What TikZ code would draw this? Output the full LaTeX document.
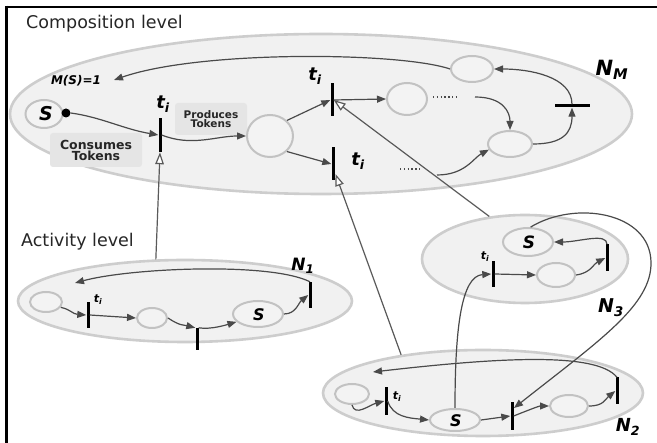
\documentclass[tikz,border=0pt]{standalone}
\usepackage{fontspec}
\setmainfont{DejaVu Sans}
\usetikzlibrary{shapes.geometric,arrows.meta}
\definecolor{regfill}{HTML}{F1F1F1}
\definecolor{regborder}{HTML}{CDCDCD}
\definecolor{plfill}{HTML}{F3F3F3}
\definecolor{plborder}{HTML}{C2C2C2}
\definecolor{arcol}{HTML}{4A4A4A}
\definecolor{hcol}{HTML}{5A5A5A}
\definecolor{boxfill}{HTML}{E5E5E5}
\begin{document}
\begin{tikzpicture}[x=1pt,y=-1pt,
  region/.style={ellipse, draw=regborder, fill=regfill, line width=2.6pt, inner sep=0pt},
  place/.style={ellipse, draw=plborder, fill=plfill, line width=2pt, inner sep=0pt},
  vbar/.style={rectangle, fill=black, minimum width=3pt, inner sep=0pt},
  hbar/.style={rectangle, fill=black, minimum height=3pt, inner sep=0pt},
  arc/.style={draw=arcol, line width=1.2pt, -{Triangle[length=9pt,width=7pt]}},
  hollow/.style={draw=hcol, line width=1.2pt, -{Triangle[open,length=12pt,width=8.5pt,fill=white]}},
  lbl/.style={inner sep=0pt, font=\bfseries\itshape\fontsize{#1}{#1}\selectfont},
  lbl/.default=16,
  title/.style={inner sep=0pt, anchor=base west, text=black!85, font=\fontsize{17.5}{17.5}\selectfont},
  tokbox/.style={rectangle, rounded corners=3pt, fill=boxfill, inner sep=0pt, align=center, text=black!85, font=\bfseries\fontsize{#1}{#1}\selectfont},
  dotline/.style={draw=arcol, line width=1.4pt, dash pattern=on 1.4pt off 2.4pt}
]
\useasboundingbox (0,0) rectangle (657,443);
\fill[white] (0,0) rectangle (657,443);
% frame
\draw[line width=2.8pt] (6.5,7) -- (657,7);
\draw[line width=3pt] (6.5,5.6) -- (6.5,443);

% titles
\node[title] (tcomp) at (26,29) {Composition level};
\node[title] (tact) at (21,247) {Activity level};

% regions
\node[region, minimum width=622pt, minimum height=160pt] (NM) at (321,114) {};
\node[region, minimum width=334pt, minimum height=82pt] (N1) at (185,301) {};
\node[region, minimum width=206pt, minimum height=88pt] (N3) at (525,259) {};
\node[region, minimum width=320pt, minimum height=86pt] (N2) at (483,393) {};

% ---------- composition level ----------
\node[tokbox=12.5, minimum width=92pt, minimum height=34pt] (cons) at (96,150) {Consumes\\[-1.5pt]Tokens};
\node[tokbox=10.5, minimum width=72pt, minimum height=32pt] (prod) at (211,119) {Produces\\[-1.5pt]Tokens};

\node[place, minimum width=37pt, minimum height=28pt] (pS) at (44,114) {};
\node[lbl=19] (lS) at (46,114) {S};
\node[circle, fill=black, minimum size=9pt, inner sep=0pt] (tok) at (66,113) {};
\node[lbl=12] (lMS) at (76,81) {M(S)=1};
\coordinate (cMS) at (114,80);

\node[vbar, minimum height=34pt] (T1) at (160,135) {};
\node[lbl=18] (lt1) at (163,104) {t\textsubscript{i}};
\node[place, minimum width=46pt, minimum height=42pt] (pMid) at (270,136) {};
\node[vbar, minimum height=33pt] (T2) at (332,100) {};
\node[lbl=18] (lt2) at (315,76) {t\textsubscript{i}};
\node[vbar, minimum height=33pt] (T3) at (333,164) {};
\node[lbl=18] (lt3) at (358,161) {t\textsubscript{i}};
\coordinate (cT3) at (335.5,174);

\node[place, minimum width=40pt, minimum height=32pt] (pA) at (407,99) {};
\node[place, minimum width=42pt, minimum height=26pt] (pB) at (472,69) {};
\node[place, minimum width=44pt, minimum height=26pt] (pC) at (510,144) {};
\node[hbar, minimum width=35pt] (BH) at (572,106) {};
\node[lbl=21] (lNM) at (612,70) {N\textsubscript{M}};

\coordinate (d1a) at (433,97);
\coordinate (d1b) at (458,97);
\coordinate (d1c) at (475,97);
\coordinate (d2a) at (400,169);
\coordinate (d2b) at (422,169);
\coordinate (d2c) at (437,175);
\draw[dotline] (d1a) -- (d1b);
\draw[dotline] (d2a) -- (d2b);

\draw[arc] (tok.east) .. controls +(30,4) and +(-35,-6) .. (T1.west);
\draw[arc] (T1.east) .. controls +(30,12) and +(-30,0) .. (pMid.west);
\draw[arc] (pMid.north east) -- (T2.west);
\draw[arc] (pMid.south east) -- (T3.west);
\draw[arc] (T2.east) -- (pA.west);
\draw[arc] (d1c) .. controls +(28,0) and +(0,-18) .. (pC.north);
\draw[arc] (d2c) .. controls +(28,0) and +(-15,8) .. (pC.195);
\draw[arc] (pC.east) .. controls +(30,0) and +(0,25) .. (BH.south);
\draw[arc] (BH.north) .. controls +(0,-28) and +(35,0) .. (pB.east);
\draw[arc] (pB.west) .. controls (400,52) and (200,50) .. (cMS);

% ---------- N1 ----------
\node[place, minimum width=32pt, minimum height=20pt] (p11) at (46,302) {};
\node[vbar, minimum height=26pt] (B1a) at (88,315) {};
\node[lbl=11] (lt11) at (98,300) {t\textsubscript{i}};
\node[place, minimum width=30pt, minimum height=20pt] (p12) at (152,318) {};
\node[vbar, minimum height=22pt] (B1b) at (197,339) {};
\node[place, minimum width=50pt, minimum height=26pt] (pS1) at (258,314) {};
\node[lbl=16] (lS1) at (259,315) {S};
\node[vbar, minimum height=26pt] (B1c) at (310,295) {};
\node[lbl=17] (lN1) at (303,266) {N\textsubscript{1}};
\coordinate (c1end) at (75,283);

\draw[arc] (p11.-20) .. controls +(10,2) and +(-14,-1) .. (B1a.west);
\draw[arc] (B1a.east) -- (p12.west);
\draw[arc] (p12.east) .. controls +(12,8) and +(-12,-3) .. (B1b.north west);
\draw[arc] (B1b.north east) .. controls +(12,2) and +(-10,3) .. (pS1.200);
\draw[arc] (pS1.east) .. controls +(12,0) and +(-10,8) .. (B1c.west);
\draw[arc] (B1c.north) .. controls +(-40,-20) and +(55,-15) .. (c1end);

% ---------- N3 ----------
\node[place, minimum width=50pt, minimum height=28pt] (pS3) at (528,242) {};
\node[lbl=17] (lS3) at (529,242) {S};
\node[vbar, minimum height=26pt] (B3a) at (493,274) {};
\node[lbl=11] (lt3a) at (485,257) {t\textsubscript{i}};
\node[place, minimum width=38pt, minimum height=24pt] (pX3) at (556,275) {};
\node[vbar, minimum height=27pt] (B3b) at (607,258) {};
\node[lbl=19] (lN3) at (611,308) {N\textsubscript{3}};

\draw[arc] (B3a.east) -- (pX3.west);
\draw[arc] (pX3.east) .. controls +(15,-2) and +(-12,6) .. (B3b.west);
\draw[arc] (B3b.north) .. controls +(0,-12) and +(25,0) .. (pS3.east);

% ---------- N2 ----------
\node[place, minimum width=34pt, minimum height=20pt] (p21) at (352,394) {};
\node[vbar, minimum height=28pt] (B2a) at (386,401) {};
\node[lbl=11] (lt2a) at (397,397) {t\textsubscript{i}};
\node[place, minimum width=50pt, minimum height=22pt] (pS2) at (455,420) {};
\node[lbl=16] (lS2) at (456,421) {S};
\node[vbar, minimum height=28pt] (B2b) at (512,416) {};
\coordinate (cB2b) at (514,408);
\node[place, minimum width=38pt, minimum height=22pt] (p22) at (569,406) {};
\node[vbar, minimum height=27pt] (B2c) at (617,391) {};
\node[lbl=18] (lN2) at (628,427) {N\textsubscript{2}};
\coordinate (c2end) at (373,372);

\draw[arc] (p21.south) .. controls +(3,12) and +(-15,4) .. (B2a.west);
\draw[arc] (B2a.east) .. controls +(5,16) and +(-20,-2) .. (pS2.west);
\draw[arc] (pS2.east) -- (B2b.west);
\draw[arc] (B2b.east) .. controls +(15,-6) and +(-10,0) .. (p22.west);
\draw[arc] (p22.east) .. controls +(15,0) and +(-10,8) .. (B2c.west);
\draw[arc] (B2c.north) .. controls +(-20,-25) and +(130,-15) .. (c2end);

% ---------- inter-level connectors ----------
\draw[arc] (pS2.north) .. controls +(0,-80) and +(-30,2) .. (B3a.west);
\draw[arc] (pS3.80) .. controls (575,200) and (650,212) .. (651,262) .. controls (652,305) and (600,340) .. (cB2b);
\draw[hollow] (N1.125) -- (T1.south);
\draw[hollow] (N3.130) -- (T2.east);
\draw[hollow] (N2.155) -- (cT3);
\end{tikzpicture}
\end{document}
